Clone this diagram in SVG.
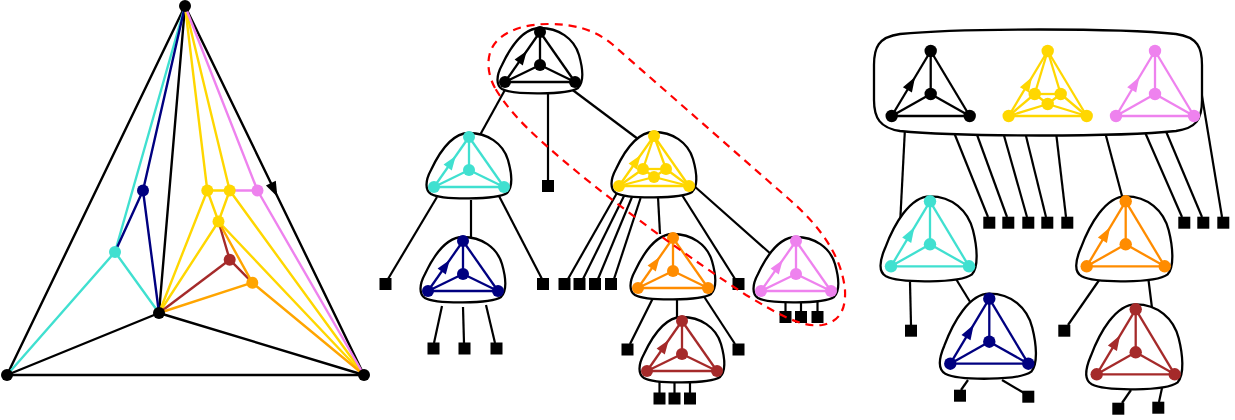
<svg xmlns="http://www.w3.org/2000/svg" xmlns:xlink="http://www.w3.org/1999/xlink" width="1235" height="420" viewBox="0 0 1235 420">
<style>
.e{stroke-width:2.4;stroke-linecap:round;fill:none}
.k{stroke:#000}.cy{stroke:#40E0D0}.nv{stroke:#000080}.gd{stroke:#FFD700}.vi{stroke:#EE82EE}.br{stroke:#A52A2A}.or{stroke:#FFA500}
.c{stroke:#000;stroke-width:2.2;fill:none}
.sq{fill:#000}
.blob{fill:#fff;stroke:#000;stroke-width:2.3}
.g line{stroke:currentColor;stroke-width:2.3}
.g circle,.g polygon{fill:currentColor;stroke:none}
</style>
<defs>
<path id="blobS" class="blob" d="M 0,-37 C 18,-37 34,-27 39,-10 C 43,4 44,17 38,23 C 28,30 -28,30 -38,24 C -44,20 -44,11 -38,0 C -30,-17 -17,-37 0,-37 Z"/>
<path id="blobL" class="blob" d="M 0,-48 C 22,-48 38,-34 43,-14 C 47,2 49,22 42,30 C 30,39 -30,39 -44,32 C -51,28 -51,18 -45,4 C -36,-20 -20,-48 0,-48 Z"/>
<g id="tetS" class="g">
<line x1="0" y1="-33" x2="0" y2="0"/><line x1="0" y1="-33" x2="-35" y2="17"/><line x1="0" y1="-33" x2="35" y2="17"/>
<line x1="0" y1="0" x2="-35" y2="17"/><line x1="0" y1="0" x2="35" y2="17"/><line x1="-35" y1="17" x2="35" y2="17"/>
<polygon points="-13.3,-14 -17.2,0.4 -25.4,-5.4"/>
<circle cx="0" cy="-33" r="6"/><circle cx="0" cy="0" r="6"/><circle cx="-35" cy="17" r="6"/><circle cx="35" cy="17" r="6"/>
</g>
<g id="octS" class="g">
<line x1="0" y1="-33" x2="-11" y2="0"/><line x1="0" y1="-33" x2="12" y2="0"/><line x1="0" y1="-33" x2="-35" y2="17"/><line x1="0" y1="-33" x2="35" y2="17"/>
<line x1="-11" y1="0" x2="12" y2="0"/><line x1="-11" y1="0" x2="0" y2="8"/><line x1="12" y1="0" x2="0" y2="8"/>
<line x1="-11" y1="0" x2="-35" y2="17"/><line x1="0" y1="8" x2="-35" y2="17"/><line x1="12" y1="0" x2="35" y2="17"/><line x1="0" y1="8" x2="35" y2="17"/>
<line x1="-35" y1="17" x2="35" y2="17"/>
<polygon points="-13.3,-14 -17.2,0.4 -25.4,-5.4"/>
<circle cx="0" cy="-33" r="6"/><circle cx="-11" cy="0" r="6"/><circle cx="12" cy="0" r="6"/><circle cx="0" cy="8" r="6"/><circle cx="-35" cy="17" r="6"/><circle cx="35" cy="17" r="6"/>
</g>
<g id="tetL" class="g">
<line x1="0" y1="-43" x2="0" y2="0"/><line x1="0" y1="-43" x2="-39" y2="22"/><line x1="0" y1="-43" x2="39" y2="22"/>
<line x1="0" y1="0" x2="-39" y2="22"/><line x1="0" y1="0" x2="39" y2="22"/><line x1="-39" y1="22" x2="39" y2="22"/>
<polygon points="-15.6,-17 -18.8,-1.4 -27.8,-6.8"/>
<circle cx="0" cy="-43" r="6.2"/><circle cx="0" cy="0" r="6.2"/><circle cx="-39" cy="22" r="6.2"/><circle cx="39" cy="22" r="6.2"/>
</g>
<g id="octL" class="g">
<line x1="0" y1="-43" x2="-13" y2="0"/><line x1="0" y1="-43" x2="13" y2="0"/><line x1="0" y1="-43" x2="-39" y2="22"/><line x1="0" y1="-43" x2="39" y2="22"/>
<line x1="-13" y1="0" x2="13" y2="0"/><line x1="-13" y1="0" x2="0" y2="10"/><line x1="13" y1="0" x2="0" y2="10"/>
<line x1="-13" y1="0" x2="-39" y2="22"/><line x1="0" y1="10" x2="-39" y2="22"/><line x1="13" y1="0" x2="39" y2="22"/><line x1="0" y1="10" x2="39" y2="22"/>
<line x1="-39" y1="22" x2="39" y2="22"/>
<polygon points="-15.6,-17 -18.8,-1.4 -27.8,-6.8"/>
<circle cx="0" cy="-43" r="6.2"/><circle cx="-13" cy="0" r="6.2"/><circle cx="13" cy="0" r="6.2"/><circle cx="0" cy="10" r="6.2"/><circle cx="-39" cy="22" r="6.2"/><circle cx="39" cy="22" r="6.2"/>
</g>
</defs>

<!-- Left planar graph -->
<g id="left-graph">
<g id="left-edges">
<line class="e k" x1="185" y1="6" x2="7" y2="375"/>
<line class="e k" x1="185" y1="6" x2="364" y2="375"/>
<line class="e k" x1="7" y1="375" x2="364" y2="375"/>
<line class="e k" x1="185" y1="6" x2="159" y2="313"/>
<line class="e k" x1="159" y1="313" x2="7" y2="375"/>
<line class="e k" x1="159" y1="313" x2="364" y2="375"/>
<line class="e cy" x1="185" y1="6" x2="115" y2="252"/>
<line class="e cy" x1="115" y1="252" x2="7" y2="375"/>
<line class="e cy" x1="115" y1="252" x2="159" y2="313"/>
<line class="e nv" x1="185" y1="6" x2="143" y2="190.5"/>
<line class="e nv" x1="143" y1="190.5" x2="115" y2="252"/>
<line class="e nv" x1="143" y1="190.5" x2="159" y2="313"/>
<line class="e gd" x1="185" y1="6" x2="207.3" y2="190.5"/>
<line class="e gd" x1="185" y1="6" x2="229.7" y2="190.5"/>
<line class="e gd" x1="207.3" y1="190.5" x2="229.7" y2="190.5"/>
<line class="e gd" x1="207.3" y1="190.5" x2="218.5" y2="221.5"/>
<line class="e gd" x1="229.7" y1="190.5" x2="218.5" y2="221.5"/>
<line class="e gd" x1="207.3" y1="190.5" x2="159" y2="313"/>
<line class="e gd" x1="218.5" y1="221.5" x2="159" y2="313"/>
<line class="e gd" x1="229.7" y1="190.5" x2="364" y2="375"/>
<line class="e gd" x1="218.5" y1="221.5" x2="364" y2="375"/>
<line class="e vi" x1="185" y1="6" x2="257.5" y2="190.5"/>
<line class="e vi" x1="229.7" y1="190.5" x2="257.5" y2="190.5"/>
<line class="e vi" x1="257.5" y1="190.5" x2="364" y2="375"/>
<line class="e br" x1="218.5" y1="221.5" x2="229.7" y2="259.7"/>
<line class="e br" x1="229.7" y1="259.7" x2="159" y2="313"/>
<line class="e br" x1="229.7" y1="259.7" x2="252.3" y2="282.7"/>
<line class="e or" x1="218.5" y1="221.5" x2="252.3" y2="282.7"/>
<line class="e or" x1="252.3" y1="282.7" x2="159" y2="313"/>
<line class="e or" x1="252.3" y1="282.7" x2="364" y2="375"/>
<polygon points="277.4,196.7 275.8,180.8 265.9,185.6" fill="#000"/>
</g>
<g id="left-vertices">
<circle cx="185" cy="6" r="6" fill="#000"/>
<circle cx="7" cy="375" r="6" fill="#000"/>
<circle cx="364" cy="375" r="6" fill="#000"/>
<circle cx="159" cy="313" r="6" fill="#000"/>
<circle cx="115" cy="252" r="6" fill="#40E0D0"/>
<circle cx="143" cy="190.5" r="6" fill="#000080"/>
<circle cx="207.3" cy="190.5" r="6" fill="#FFD700"/>
<circle cx="229.7" cy="190.5" r="6" fill="#FFD700"/>
<circle cx="218.5" cy="221.5" r="6" fill="#FFD700"/>
<circle cx="257.5" cy="190.5" r="6" fill="#EE82EE"/>
<circle cx="229.7" cy="259.7" r="6" fill="#A52A2A"/>
<circle cx="252.3" cy="282.7" r="6" fill="#FFA500"/>
</g>
</g>

<!-- Connectors of both trees -->
<g id="connectors">
<line class="c" x1="506" y1="88" x2="480" y2="135"/>
<line class="c" x1="548" y1="93" x2="548" y2="181"/>
<line class="c" x1="570" y1="88" x2="638" y2="139"/>
<line class="c" x1="437" y1="197" x2="388" y2="279"/>
<line class="c" x1="471" y1="200" x2="471" y2="238"/>
<line class="c" x1="499" y1="196" x2="542" y2="279"/>
<line class="c" x1="442" y1="306" x2="434" y2="343"/>
<line class="c" x1="463" y1="307" x2="464" y2="343"/>
<line class="c" x1="486" y1="305" x2="495" y2="343"/>
<line class="c" x1="617" y1="193" x2="568" y2="279"/>
<line class="c" x1="624.5" y1="195" x2="583" y2="279"/>
<line class="c" x1="632" y1="197" x2="598" y2="279"/>
<line class="c" x1="640.6" y1="198" x2="614" y2="279"/>
<line class="c" x1="658" y1="197" x2="660" y2="234"/>
<line class="c" x1="682" y1="195" x2="735" y2="279"/>
<line class="c" x1="693" y1="185" x2="772" y2="255"/>
<line class="c" x1="653" y1="298" x2="630" y2="344"/>
<line class="c" x1="677" y1="298" x2="677" y2="318"/>
<line class="c" x1="703" y1="295" x2="735" y2="344"/>
<line class="c" x1="659.5" y1="382" x2="659.5" y2="393"/>
<line class="c" x1="674.5" y1="383" x2="674.5" y2="393"/>
<line class="c" x1="690" y1="382" x2="690" y2="393"/>
<line class="c" x1="785.5" y1="302" x2="785.5" y2="311"/>
<line class="c" x1="801" y1="303" x2="801" y2="311"/>
<line class="c" x1="817.5" y1="302" x2="817.5" y2="311"/>
<line class="c" x1="905" y1="128" x2="900" y2="225"/>
<line class="c" x1="953" y1="130" x2="988" y2="217"/>
<line class="c" x1="976" y1="132" x2="1007" y2="217"/>
<line class="c" x1="1003" y1="132" x2="1027" y2="217"/>
<line class="c" x1="1025" y1="132" x2="1046" y2="217"/>
<line class="c" x1="1056" y1="132" x2="1066" y2="217"/>
<line class="c" x1="1105" y1="132" x2="1122" y2="196"/>
<line class="c" x1="1144" y1="130" x2="1182" y2="217"/>
<line class="c" x1="1165" y1="129" x2="1202" y2="217"/>
<line class="c" x1="1201" y1="90" x2="1222" y2="217"/>
<line class="c" x1="910" y1="282" x2="911" y2="325"/>
<line class="c" x1="956" y1="279" x2="972" y2="305"/>
<line class="c" x1="1102" y1="276" x2="1068" y2="325"/>
<line class="c" x1="1148" y1="276" x2="1152" y2="308"/>
<line class="c" x1="968" y1="380" x2="961" y2="390"/>
<line class="c" x1="1002" y1="380" x2="1024" y2="393"/>
<line class="c" x1="1131" y1="390" x2="1122" y2="403"/>
<line class="c" x1="1162" y1="388" x2="1159" y2="402"/>
</g>

<!-- Leaves -->
<g id="leaves">
<rect class="sq" x="542" y="180" width="12" height="12"/>
<rect class="sq" x="379.5" y="278" width="12" height="12"/>
<rect class="sq" x="537" y="278" width="12" height="12"/>
<rect class="sq" x="427.5" y="342.5" width="12" height="12"/>
<rect class="sq" x="458.5" y="342.5" width="12" height="12"/>
<rect class="sq" x="490.5" y="342.5" width="12" height="12"/>
<rect class="sq" x="558.5" y="278" width="12" height="12"/>
<rect class="sq" x="573.5" y="278" width="12" height="12"/>
<rect class="sq" x="589" y="278" width="12" height="12"/>
<rect class="sq" x="605" y="278" width="12" height="12"/>
<rect class="sq" x="732.5" y="278" width="12" height="12"/>
<rect class="sq" x="621.5" y="343.5" width="12" height="12"/>
<rect class="sq" x="732.5" y="343.5" width="12" height="12"/>
<rect class="sq" x="653.5" y="392.5" width="12" height="12"/>
<rect class="sq" x="668.5" y="392.5" width="12" height="12"/>
<rect class="sq" x="684" y="392.5" width="12" height="12"/>
<rect class="sq" x="779.5" y="311" width="12" height="12"/>
<rect class="sq" x="795" y="311" width="12" height="12"/>
<rect class="sq" x="811.5" y="311" width="12" height="12"/>
<rect class="sq" x="983.3" y="216.7" width="12" height="12"/>
<rect class="sq" x="1002.3" y="216.7" width="12" height="12"/>
<rect class="sq" x="1022.3" y="216.7" width="12" height="12"/>
<rect class="sq" x="1041.3" y="216.7" width="12" height="12"/>
<rect class="sq" x="1061.3" y="216.7" width="12" height="12"/>
<rect class="sq" x="1178.3" y="216.7" width="12" height="12"/>
<rect class="sq" x="1197.3" y="216.7" width="12" height="12"/>
<rect class="sq" x="1217.3" y="216.7" width="12" height="12"/>
<rect class="sq" x="905" y="324.7" width="12" height="12"/>
<rect class="sq" x="1058.3" y="324.7" width="12" height="12"/>
<rect class="sq" x="954" y="389.7" width="12" height="12"/>
<rect class="sq" x="1022.3" y="390.7" width="12" height="12"/>
<rect class="sq" x="1112.3" y="402.7" width="12" height="12"/>
<rect class="sq" x="1152.3" y="401.7" width="12" height="12"/>
</g>

<!-- Middle tree nodes -->
<g id="m-black" transform="translate(540,65)"><use xlink:href="#blobS"/><use xlink:href="#tetS" color="#000"/></g>
<g id="m-cyan" transform="translate(469,170)"><use xlink:href="#blobS"/><use xlink:href="#tetS" color="#40E0D0"/></g>
<g id="m-gold" transform="translate(654,169)"><use xlink:href="#blobS"/><use xlink:href="#octS" color="#FFD700"/></g>
<g id="m-navy" transform="translate(463,274)"><use xlink:href="#blobS"/><use xlink:href="#tetS" color="#000080"/></g>
<g id="m-orange" transform="translate(673,271)"><use xlink:href="#blobS"/><use xlink:href="#tetS" color="#FF8C00"/></g>
<g id="m-violet" transform="translate(796,274)"><use xlink:href="#blobS"/><use xlink:href="#tetS" color="#EE82EE"/></g>
<g id="m-brown" transform="translate(682,354)"><use xlink:href="#blobS"/><use xlink:href="#tetS" color="#A52A2A"/></g>

<!-- Right tree nodes -->
<g id="r-root">
<path class="blob" d="M 900,34 C 960,28 1120,28 1176,34 C 1198,37 1202,48 1202,65 L 1202,100 C 1202,120 1196,128 1176,131 C 1120,137 960,137 900,131 C 880,128 874,118 874,100 L 874,65 C 874,48 878,37 900,34 Z"/>
<use xlink:href="#tetL" color="#000" transform="translate(930.7,94)"/>
<use xlink:href="#octL" color="#FFD700" transform="translate(1047.7,94)"/>
<use xlink:href="#tetL" color="#EE82EE" transform="translate(1155,94)"/>
</g>
<g id="r-cyan" transform="translate(930,244.3)"><use xlink:href="#blobL"/><use xlink:href="#tetL" color="#40E0D0"/></g>
<g id="r-navy" transform="translate(989.3,341.7)"><use xlink:href="#blobL"/><use xlink:href="#tetL" color="#000080"/></g>
<g id="r-orange" transform="translate(1125.7,244.3)"><use xlink:href="#blobL"/><use xlink:href="#tetL" color="#FF8C00"/></g>
<g id="r-brown" transform="translate(1135.7,352.3)"><use xlink:href="#blobL"/><use xlink:href="#tetL" color="#A52A2A"/></g>

<!-- Red dashed enclosure -->
<path id="highlight" d="M 495,88 C 486,72 485,50 500,38 C 512,28 530,24 548,24 C 575,24 595,30 612,44 L 790,200 C 822,228 842,258 845,290 C 846,312 838,322 822,325 C 800,328 775,312 746,295 C 700,265 600,195 540,140 C 520,122 505,105 495,88 Z" fill="none" stroke="#FF0000" stroke-width="2.2" stroke-dasharray="8 6"/>
</svg>
